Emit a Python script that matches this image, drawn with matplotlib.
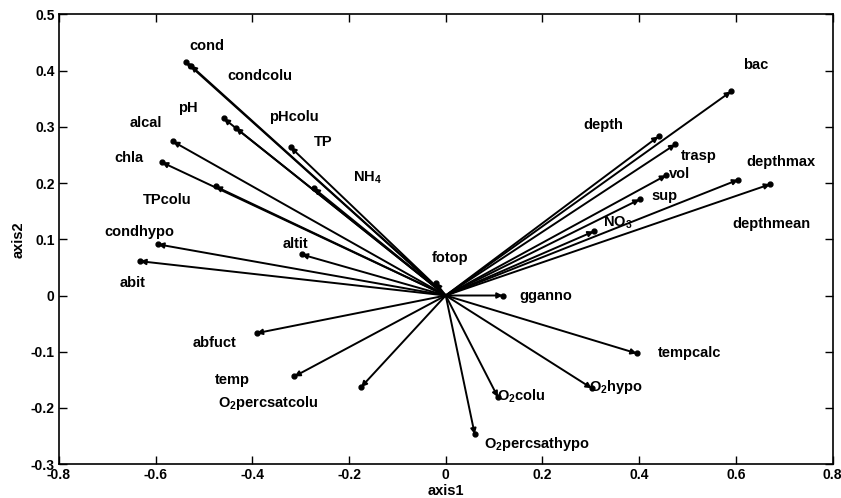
import matplotlib
matplotlib.use("Agg")
import matplotlib.pyplot as plt

plt.rcParams['font.family'] = ['Liberation Sans', 'DejaVu Sans']
plt.rcParams['font.weight'] = 'bold'
plt.rcParams['mathtext.default'] = 'regular'

# variable names and their loadings on axis1 / axis2
names = ['cond', 'condcolu', 'pH', 'pHcolu', 'alcal', 'TP', 'chla', 'NH$_4$',
         'TPcolu', 'condhypo', 'altit', 'abit', 'fotop', 'abfuct', 'temp',
         'O$_2$percsatcolu', 'gganno', 'tempcalc', 'O$_2$hypo', 'O$_2$colu',
         'O$_2$percsathypo', 'bac', 'depth', 'trasp', 'vol', 'depthmax', 'sup',
         'NO$_3$', 'depthmean']
axis1 = [-0.537, -0.527, -0.459, -0.434, -0.564, -0.321, -0.587, -0.273,
         -0.476, -0.595, -0.298, -0.632, -0.021, -0.391, -0.313,
         -0.175, 0.118, 0.395, 0.302, 0.108,
         0.060, 0.590, 0.440, 0.475, 0.456, 0.605, 0.401,
         0.306, 0.671]
axis2 = [0.415, 0.409, 0.315, 0.298, 0.274, 0.264, 0.237, 0.191,
         0.194, 0.091, 0.073, 0.061, 0.023, -0.067, -0.144,
         -0.163, 0.000, -0.103, -0.165, -0.181,
         -0.247, 0.363, 0.283, 0.269, 0.214, 0.206, 0.171,
         0.114, 0.198]

# where each name is written (data coords)
label_x = [-0.494, -0.385, -0.533, -0.313, -0.620, -0.253, -0.655, -0.162,
           -0.577, -0.634, -0.311, -0.647, 0.009, -0.478, -0.442,
           -0.366, 0.207, 0.504, 0.353, 0.157,
           0.188, 0.642, 0.326, 0.524, 0.483, 0.693, 0.452,
           0.355, 0.673]
label_y = [0.444, 0.390, 0.333, 0.317, 0.306, 0.273, 0.244, 0.210,
           0.170, 0.113, 0.091, 0.022, 0.066, -0.085, -0.151,
           -0.192, -0.001, -0.103, -0.163, -0.179,
           -0.265, 0.410, 0.303, 0.248, 0.216, 0.237, 0.177,
           0.130, 0.128]

fig = plt.figure(figsize=(8.41, 4.98), dpi=100)
ax = fig.add_axes([0.070, 0.068, 0.920, 0.903])

for x, y in zip(axis1, axis2):
    ax.annotate('', xy=(x, y), xytext=(0, 0),
                arrowprops=dict(arrowstyle='-|>', lw=1.4, color='k',
                                mutation_scale=8, shrinkA=0, shrinkB=0))
ax.plot(axis1, axis2, 'o', color='k', ms=3.5)

for name, lx, ly in zip(names, label_x, label_y):
    ax.text(lx, ly, name, ha='center', va='center', fontsize=10.5,
            fontweight='bold')

ax.set_xlim(-0.8, 0.8)
ax.set_ylim(-0.3, 0.5)
ax.set_xticks([-0.8, -0.6, -0.4, -0.2, 0, 0.2, 0.4, 0.6, 0.8])
ax.set_xticklabels(['-0.8', '-0.6', '-0.4', '-0.2', '0', '0.2', '0.4', '0.6', '0.8'])
ax.set_yticks([-0.3, -0.2, -0.1, 0, 0.1, 0.2, 0.3, 0.4, 0.5])
ax.set_yticklabels(['-0.3', '-0.2', '-0.1', '0', '0.1', '0.2', '0.3', '0.4', '0.5'])
ax.tick_params(direction='in', length=6, width=1, top=True, right=True,
               labelsize=10, pad=3)
for lab in ax.get_xticklabels() + ax.get_yticklabels():
    lab.set_fontweight('bold')
for sp in ax.spines.values():
    sp.set_linewidth(1.2)

ax.set_xlabel('axis1', fontsize=10.5, fontweight='bold', labelpad=1)
ax.set_ylabel('axis2', fontsize=10.5, fontweight='bold', labelpad=4)

fig.savefig('out.png', dpi=100)
